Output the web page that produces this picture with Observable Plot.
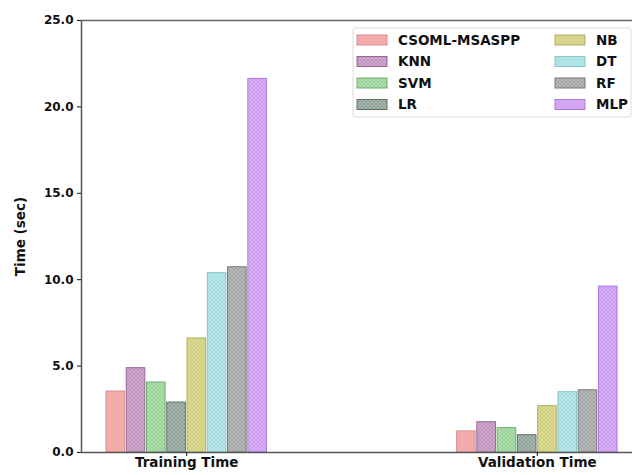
<!DOCTYPE html>
<html>
<head>
<meta charset="utf-8">
<script src="https://cdn.jsdelivr.net/npm/d3@7"></script>
<script src="https://cdn.jsdelivr.net/npm/@observablehq/plot@0.6"></script>
<style>
  html, body { margin: 0; padding: 0; background: #fff; }
  #chart { position: relative; width: 632px; height: 475px; }
</style>
</head>
<body>
<div id="chart"></div>
<script>
const models = ["CSOML-MSASPP", "KNN", "SVM", "LR", "NB", "DT", "RF", "MLP"];
const groups = ["Training Time", "Validation Time"];
const trainingTime = [3.53, 4.88, 4.05, 2.89, 6.6, 10.38, 10.72, 21.62];
const validationTime = [1.22, 1.75, 1.41, 1.0, 2.68, 3.49, 3.6, 9.6];
const yTicks = [0, 5, 10, 15, 20, 25];
const fills = ["#f7afaf", "#cfa8cf", "#ace0ac", "#a6b8ae", "#dcdc92", "#b6e8ea", "#b8b8b8", "#d9aef8"];
const edges = ["#dc9090", "#936893", "#70ac70", "#5e7268", "#b0b068", "#88c6c8", "#787878", "#ac7ad8"];

const step = 0.0578, barW = 0.053;
const rows = [];
groups.forEach((g, gi) => {
  const vals = gi === 0 ? trainingTime : validationTime;
  models.forEach((m, mi) => rows.push({group: g, gi, model: m, mi, value: vals[mi]}));
});
const xc = d => d.gi + (d.mi - 3.5) * step;

const FONT = "DejaVu Sans, sans-serif";
const plot = Plot.plot({
  width: 632,
  height: 475,
  marginLeft: 81,
  marginRight: 0,
  marginTop: 20,
  marginBottom: 23,
  style: {fontFamily: FONT, fontSize: "12px", fontWeight: "bold", color: "#111", background: "#fff"},
  x: {type: "linear", domain: [-0.3, 1.3], range: [81, 642]},
  y: {domain: [0, 25]},
  color: {type: "identity"},
  marks: [
    Plot.rectY(rows, {
      x1: d => xc(d) - barW / 2,
      x2: d => xc(d) + barW / 2,
      y: "value",
      fill: d => `url(#hatch-${d.mi})`,
      stroke: d => edges[d.mi],
      strokeWidth: 1
    }),
    Plot.ruleX([-0.3], {stroke: "#555", strokeWidth: 1.5}),
    Plot.ruleY([0], {stroke: "#555", strokeWidth: 1.5}),
    Plot.ruleY([25], {stroke: "#666", strokeWidth: 1.5}),
    Plot.axisY(yTicks, {tickFormat: d3.format(".1f"), tickSize: 4, tickPadding: 4, label: null, fontSize: 12, fontWeight: "bold"}),
    Plot.axisX([0, 1], {tickFormat: i => groups[i], tickSize: 4, tickPadding: 1, label: null, fontSize: 13.5, fontWeight: "bold"}),
    Plot.text(["Time (sec)"], {frameAnchor: "left", textAnchor: "middle", dx: -61, rotate: -90, text: d => d, fontSize: 13.5, fontWeight: "bold", fill: "#111"})
  ]
});

// hatch patterns
const svg = d3.select(plot);
const defs = svg.insert("defs", ":first-child");
fills.forEach((c, i) => {
  const p = defs.append("pattern")
    .attr("id", `hatch-${i}`)
    .attr("patternUnits", "userSpaceOnUse")
    .attr("width", 4).attr("height", 4);
  p.append("rect").attr("width", 4).attr("height", 4).attr("fill", c);
  p.append("path").attr("d", "M0,4 L4,0 M-1,1 L1,-1 M3,5 L5,3")
    .attr("stroke", edges[i]).attr("stroke-opacity", 0.5).attr("stroke-width", 0.6);
  p.append("path").attr("d", "M0,0 L4,4 M-1,3 L1,5 M3,-1 L5,1")
    .attr("stroke", edges[i]).attr("stroke-opacity", 0.5).attr("stroke-width", 0.6);
});

// legend
const lg = svg.append("g").attr("font-family", FONT).attr("font-size", 13.5)
  .attr("font-weight", "bold").attr("text-anchor", "start");
lg.append("rect").attr("x", 353).attr("y", 28).attr("width", 278).attr("height", 89)
  .attr("rx", 3).attr("fill", "#fff").attr("fill-opacity", 0.85).attr("stroke", "#dcdcdc");
const rowY = [40, 61.5, 83, 104.5];
models.forEach((m, i) => {
  const col = Math.floor(i / 4), r = i % 4;
  const sx = col === 0 ? 357 : 555;
  const tx = col === 0 ? 398 : 596;
  lg.append("rect").attr("x", sx).attr("y", rowY[r] - 5).attr("width", 30).attr("height", 10)
    .attr("fill", `url(#hatch-${i})`).attr("stroke", edges[i]).attr("stroke-width", 1);
  lg.append("text").attr("x", tx).attr("y", rowY[r]).attr("dy", "0.35em").attr("fill", "#111").text(m);
});

document.getElementById("chart").appendChild(plot);
</script>
</body>
</html>
